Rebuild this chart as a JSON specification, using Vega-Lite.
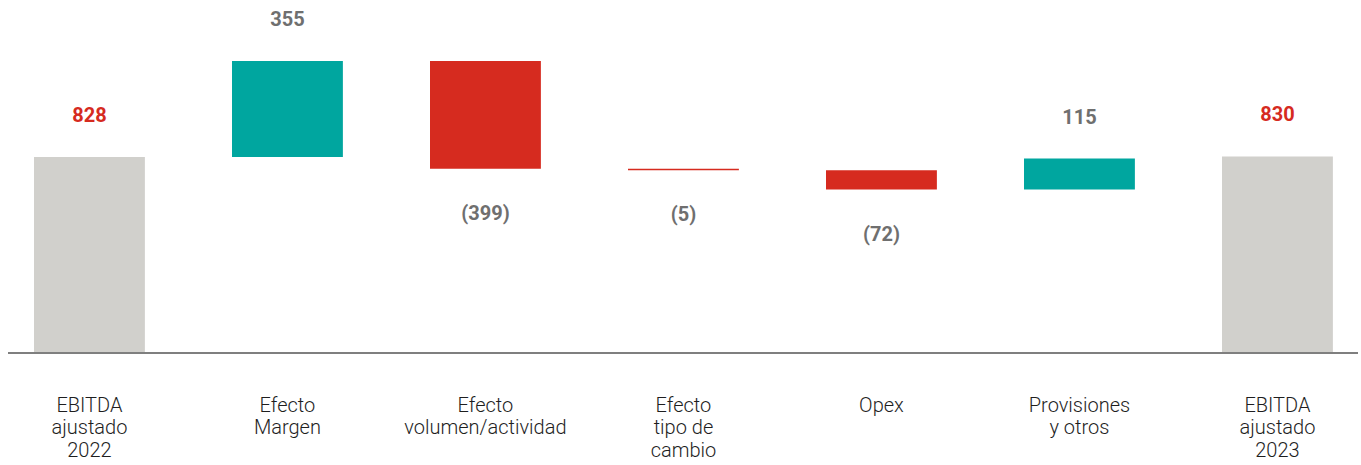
{
  "$schema": "https://vega.github.io/schema/vega-lite/v6.json",
  "width": 1350,
  "height": 353,
  "autosize": {"type": "none"},
  "padding": {"left": 8, "top": 0, "right": 3, "bottom": 112},
  "background": "white",
  "config": {"view": {"stroke": null}, "font": "Roboto"},
  "data": {
    "values": [
      {"step": "EBITDA|ajustado|2022", "start": 0, "end": 828, "lab": "828", "kind": "total"},
      {"step": "Efecto|Margen", "start": 828, "end": 1183, "lab": "355", "kind": "up"},
      {"step": "Efecto|volumen/actividad", "start": 1183, "end": 784, "lab": "(399)", "kind": "down"},
      {"step": "Efecto|tipo de|cambio", "start": 784, "end": 779, "lab": "(5)", "kind": "down"},
      {"step": "Opex", "start": 779, "end": 707, "lab": "(72)", "kind": "down"},
      {"step": "Provisiones|y otros", "start": 707, "end": 822, "lab": "115", "kind": "up"},
      {"step": "EBITDA|ajustado|2023", "start": 0, "end": 830, "lab": "830", "kind": "total"}
    ]
  },
  "encoding": {
    "x": {
      "field": "step",
      "type": "nominal",
      "sort": null,
      "scale": {"range": [-17.56, 1368.44], "paddingInner": 0.44, "paddingOuter": 0.22},
      "axis": {
        "title": null,
        "domain": false,
        "ticks": false,
        "grid": false,
        "labelAngle": 0,
        "labelAlign": "center",
        "labelBaseline": "top",
        "labelPadding": 42,
        "labelFontSize": 20,
        "labelFontWeight": 300,
        "labelLineHeight": 22.5,
        "labelColor": "#1e1e1e",
        "labelFont": "Roboto",
        "labelExpr": "split(datum.label, '|')"
      }
    }
  },
  "layer": [
    {
      "mark": {"type": "bar", "clip": true},
      "encoding": {
        "y": {"field": "start", "type": "quantitative", "scale": {"domain": [102, 1409], "zero": false, "nice": false}, "axis": null},
        "y2": {"field": "end"},
        "color": {
          "field": "kind",
          "type": "nominal",
          "scale": {"domain": ["total", "up", "down"], "range": ["#D1D0CC", "#00A69F", "#D62B1F"]},
          "legend": null
        }
      }
    },
    {
      "mark": {"type": "rule", "color": "#7f7f7f", "strokeWidth": 1.5},
      "encoding": {"y": {"datum": 102}, "x": null}
    },
    {
      "transform": [{"filter": "datum.kind !== 'down'"}],
      "mark": {"type": "text", "fontWeight": "bold", "fontSize": 20, "baseline": "middle", "dy": -41},
      "encoding": {
        "y": {"field": "end", "type": "quantitative"},
        "text": {"field": "lab"},
        "color": {"condition": {"test": "datum.kind === 'total'", "value": "#D62B1F"}, "value": "#6F6F6F"}
      }
    },
    {
      "transform": [{"filter": "datum.kind === 'down'"}],
      "mark": {"type": "text", "fontWeight": "bold", "fontSize": 20, "baseline": "middle", "dy": 45, "color": "#6F6F6F"},
      "encoding": {
        "y": {"field": "end", "type": "quantitative"},
        "text": {"field": "lab"}
      }
    }
  ]
}
